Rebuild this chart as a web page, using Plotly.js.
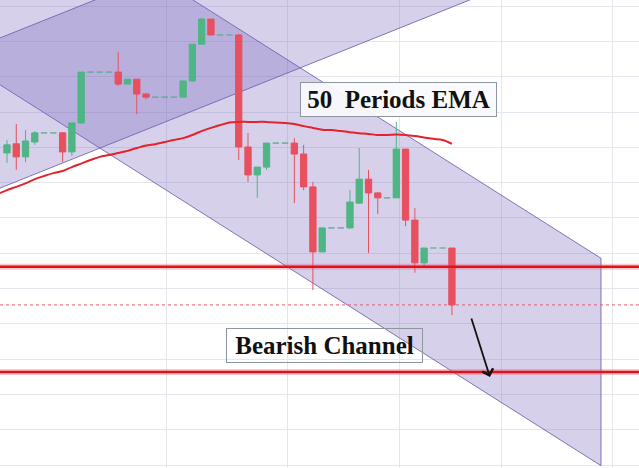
<!DOCTYPE html>
<html>
<head>
<meta charset="utf-8">
<script src="https://cdn.plot.ly/plotly-3.0.1.min.js"></script>
<style>html,body{margin:0;padding:0;background:#fff;}#chart{width:639px;height:468px;}</style>
</head>
<body>
<div id="chart"></div>
<script>
// ---- data (price units, arbitrary scale) ----
var openP  = [88.4,91.0,87.3,91.5,94.1,94.1,94.1,88.7,96.9,111.3,111.3,111.3,111.3,107.9,109.3,105.1,104.2,104.2,104.2,104.2,108.8,119.2,126.3,121.8,121.8,121.8,90.1,82.2,84.4,91.2,91.2,91.2,88.1,78.8,60.4,67.2,67.2,67.2,74.2,81.0,77.1,75.7,75.7,89.5,69.4,57.3,61.5,61.5,61.5];
var highP  = [92.1,96.6,94.9,94.6,94.1,94.1,94.3,96.9,111.3,111.3,111.3,111.3,117.0,109.3,109.3,105.4,104.2,104.2,104.2,108.8,119.2,126.6,126.3,121.8,121.8,122.1,94.1,84.4,91.2,91.2,91.2,92.6,90.7,80.2,67.2,67.2,67.2,77.9,89.8,83.6,77.4,75.7,97.2,89.5,72.8,61.5,61.5,61.5,61.5];
var lowP   = [85.6,83.6,85.8,90.7,94.1,94.1,85.8,87.5,96.6,111.3,111.3,111.3,107.4,107.9,99.4,103.6,104.2,104.2,104.2,104.2,108.5,119.2,121.8,121.8,121.8,86.4,80.2,75.7,83.6,91.2,91.2,74.2,77.9,49.6,60.4,67.2,67.2,66.9,74.2,60.1,71.1,75.7,75.7,67.7,54.5,56.2,61.5,61.5,42.5];
var closeP = [90.7,87.3,91.8,94.1,94.1,94.1,88.7,96.9,111.3,111.3,111.3,111.3,107.9,109.3,105.1,104.2,104.2,104.2,104.2,108.8,119.2,126.3,121.8,121.8,121.8,90.1,82.2,84.4,91.2,91.2,91.2,88.1,78.8,60.4,67.2,67.2,67.2,74.5,81.0,77.1,75.7,75.7,89.5,69.4,57.3,61.5,61.5,61.5,45.4];

var emaX = [-1,0,1,2,3,4,5,6,7,8,9,10,11,12,13,14,15,16,17,18,19,20,21,22,23,24,25,26,27,28,29,30,31,32,33,34,35,36,37,38,39,40,41,42,43,44,45,46,47,48];
var emaY = [76.8,77.9,78.8,79.8,81.0,81.9,82.7,83.3,84.4,85.4,86.4,87.3,87.8,88.4,89.0,89.8,90.5,90.9,91.5,92.1,92.6,93.5,94.6,95.5,96.3,97.0,97.2,97.2,97.2,97.2,97.0,96.9,96.6,96.0,95.5,95.0,94.9,94.6,94.3,94.0,93.8,93.5,93.5,93.6,93.5,93.2,92.8,92.4,92.1,91.0];

var risingX = [-1, 50];
var risingUpper = [120.7, 174.2];
var risingLower = [78.2, 131.8];

var fallingX = [-1, 64.08];
var fallingUpper = [166.7, 58.6];
var fallingLower = [108.1, -0.1];

var supportLevels = [56.2, 26.4];
var lastCloseLevel = 45.4;

var gridX = [17.25, 30.3, 42.3, 53.3, 65.3];

var labels = ["50  Periods EMA", "Bearish Channel"];

// ---- build ----
var idx = openP.map(function(_, i){ return i; });
var real = {x:[],o:[],h:[],l:[],c:[]}, doji = {x:[],o:[],h:[],l:[],c:[]};
idx.forEach(function(i){
  var t = (openP[i] === closeP[i]) ? doji : real;
  t.x.push(i); t.o.push(openP[i]); t.h.push(highP[i]); t.l.push(lowP[i]); t.c.push(closeP[i]);
});

var xr = [-0.755, 68.18];
var yr = [-0.76, 131.7];

function channelPath(xs, up, lo){
  return 'M' + xs[0] + ',' + up[0] + ' L' + xs[1] + ',' + up[1] +
         ' L' + xs[1] + ',' + lo[1] + ' L' + xs[0] + ',' + lo[0] + ' Z';
}

var traces = [];
traces.push({type:'candlestick', x:real.x, open:real.o, high:real.h, low:real.l, close:real.c,
  increasing:{line:{color:'#4fb584', width:1}, fillcolor:'#4fb584'},
  decreasing:{line:{color:'#e8505f', width:1}, fillcolor:'#e8505f'},
  whiskerwidth:0, hoverinfo:'skip', showlegend:false});
traces.push({type:'candlestick', x:doji.x, open:doji.o, high:doji.h, low:doji.l, close:doji.c,
  increasing:{line:{color:'rgba(90,170,140,0.75)', width:1.6}, fillcolor:'rgba(90,170,140,0.75)'},
  decreasing:{line:{color:'rgba(90,170,140,0.75)', width:1.6}, fillcolor:'rgba(90,170,140,0.75)'},
  whiskerwidth:0, hoverinfo:'skip', showlegend:false});

traces.push({type:'scatter', mode:'lines', x:emaX, y:emaY, line:{color:'#e3222c', width:2, shape:'spline'}, hoverinfo:'skip', showlegend:false});

supportLevels.forEach(function(v){
  traces.push({type:'scatter', mode:'lines', x:xr, y:[v,v], line:{color:'rgba(245,80,90,0.3)', width:6}, hoverinfo:'skip', showlegend:false});
  traces.push({type:'scatter', mode:'lines', x:xr, y:[v,v], line:{color:'#e0101c', width:2.5}, hoverinfo:'skip', showlegend:false});
});
traces.push({type:'scatter', mode:'lines', x:xr, y:[lastCloseLevel,lastCloseLevel], line:{color:'#ec5a6a', width:1, dash:'dot'}, hoverinfo:'skip', showlegend:false});

var layout = {
  width:639, height:468,
  margin:{l:0, r:0, t:0, b:0},
  paper_bgcolor:'#ffffff', plot_bgcolor:'#ffffff',
  showlegend:false,
  boxgap:0.32, boxgroupgap:0,
  xaxis:{range:xr, showticklabels:false, zeroline:false, showgrid:true, gridcolor:'#e4e7ee', gridwidth:1,
         tickmode:'array', tickvals:gridX, ticks:'', rangeslider:{visible:false}, fixedrange:true},
  yaxis:{range:yr, showticklabels:false, zeroline:false, showgrid:true, gridcolor:'#e4e7ee', gridwidth:1,
         tick0:0, dtick:10, ticks:'', fixedrange:true},
  shapes:[
    {type:'path', xref:'x', yref:'y', layer:'between', path:channelPath(fallingX, fallingUpper, fallingLower),
     fillcolor:'rgba(120,100,190,0.30)', line:{color:'rgba(110,95,170,0.85)', width:1}},
    {type:'path', xref:'x', yref:'y', layer:'between', path:channelPath(risingX, risingUpper, risingLower),
     fillcolor:'rgba(120,100,190,0.30)', line:{color:'rgba(110,95,170,0.85)', width:1}}
  ],
  annotations:[
    {x:42.23, y:103.4, xref:'x', yref:'y', text:'', showarrow:false,
     font:{family:'Liberation Serif, Times New Roman, serif', size:25, color:'#111'},
     bgcolor:'rgba(250,250,252,0.92)', bordercolor:'#8d95a0', borderwidth:1, borderpad:1,
     width:193, height:31},
    {x:34.3, y:33.8, xref:'x', yref:'y', text:'', showarrow:false,
     font:{family:'Liberation Serif, Times New Roman, serif', size:25, color:'#111'},
     bgcolor:'rgba(255,255,255,0)', bordercolor:'#8d95a0', borderwidth:1, borderpad:1,
     width:193, height:31},
    {x:52.1, y:25.0, ax:50.05, ay:42.0, xref:'x', yref:'y', axref:'x', ayref:'y', text:'',
     showarrow:true, arrowhead:4, arrowsize:1.2, arrowwidth:1.8, arrowcolor:'#111'}
  ]
};
layout.annotations[0].text = '<b>' + labels[0].replace(/  /g, '&nbsp; ') + '</b>';
layout.annotations[1].text = '<b>' + labels[1] + '</b>';

Plotly.newPlot('chart', traces, layout, {staticPlot:true, displayModeBar:false});
</script>
</body>
</html>
